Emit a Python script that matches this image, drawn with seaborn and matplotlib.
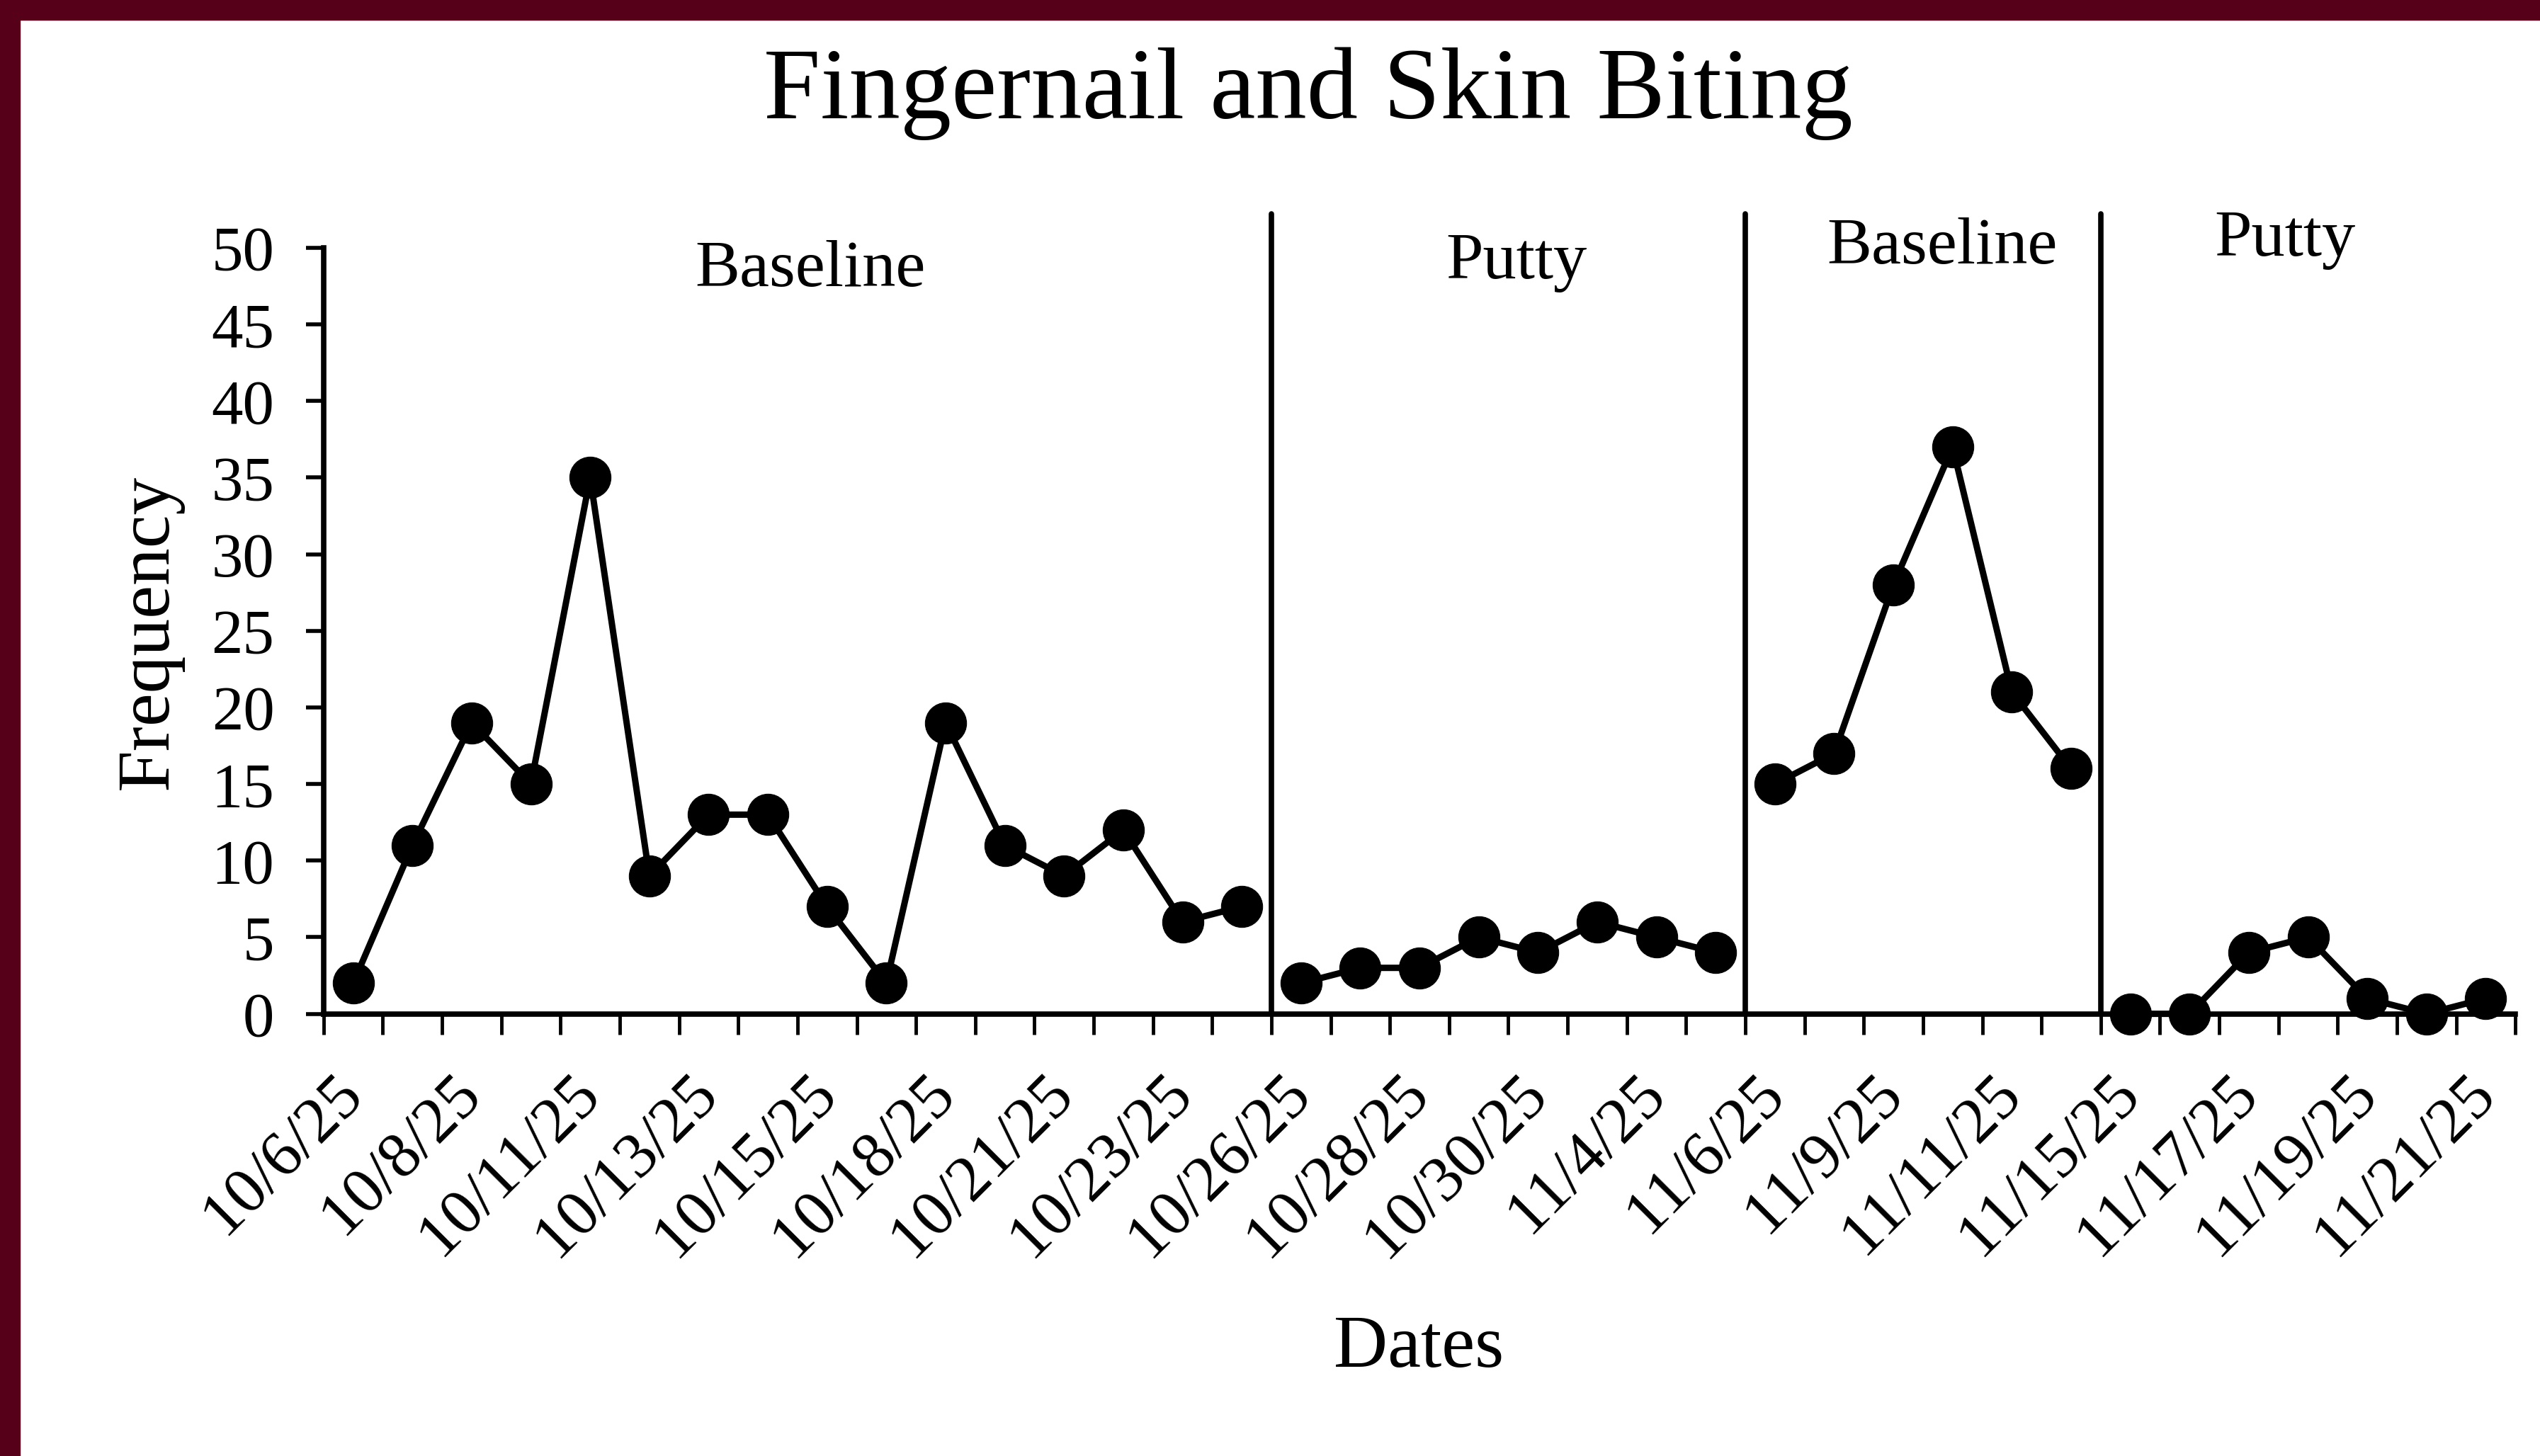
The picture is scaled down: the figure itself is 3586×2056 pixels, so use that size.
import pandas as pd
import matplotlib.pyplot as plt
from matplotlib.patches import Rectangle
from matplotlib.ticker import FixedLocator
import seaborn as sns

# session dates (every other one is printed on the axis)
dates = ['10/6/25', '10/7/25', '10/8/25', '10/9/25', '10/11/25', '10/12/25',
         '10/13/25', '10/14/25', '10/15/25', '10/16/25', '10/18/25', '10/20/25',
         '10/21/25', '10/22/25', '10/23/25', '10/24/25', '10/26/25', '10/27/25',
         '10/28/25', '10/29/25', '10/30/25', '11/3/25', '11/4/25', '11/5/25',
         '11/6/25', '11/7/25', '11/9/25', '11/10/25', '11/11/25', '11/12/25',
         '11/15/25', '11/16/25', '11/17/25', '11/18/25', '11/19/25', '11/20/25',
         '11/21/25']

baseline_1 = [2, 11, 19, 15, 35, 9, 13, 13, 7, 2, 19, 11, 9, 12, 6, 7]
putty_1 = [2, 3, 3, 5, 4, 6, 5, 4]
baseline_2 = [15, 17, 28, 37, 21, 16]
putty_2 = [0, 0, 4, 5, 1, 0, 1]

phase_names = ['Baseline', 'Putty', 'Baseline', 'Putty']
phase_values = [baseline_1, putty_1, baseline_2, putty_2]

# build one long table, one segment per phase
rows = []
pos = 0
for k, vals in enumerate(phase_values):
    for v in vals:
        rows.append({'pos': pos, 'date': dates[pos], 'freq': v, 'segment': k})
        pos += 1
df = pd.DataFrame(rows)
bounds = df.groupby('segment')['pos'].max().values[:-1] + 0.5

sns.set_theme(style='white')
plt.rcParams['font.family'] = ['Liberation Serif', 'DejaVu Serif']
plt.rcParams['text.color'] = 'black'
plt.rcParams['xtick.color'] = 'black'
plt.rcParams['ytick.color'] = 'black'
plt.rcParams['axes.labelcolor'] = 'black'

fig = plt.figure(figsize=(35.86, 20.56), dpi=100)
fig.patch.set_facecolor('white')
ax = fig.add_axes([0.1274, 0.3037, 0.8629, 0.5261])

sns.lineplot(data=df, x='pos', y='freq', hue='segment', units='segment',
             estimator=None, palette=['black'] * 4, legend=False,
             marker='o', markersize=42, markeredgecolor='black',
             linewidth=6.5, ax=ax)
for ln in ax.lines:
    ln.set_clip_on(False)

# phase change lines
for b in bounds:
    ax.plot([b, b], [0, 52.2], color='black', lw=5.5, clip_on=False)

# phase labels
label_x = [7.72, 19.64, 26.82, 32.61]
label_y = [47.5, 48.0, 49.0, 49.5]
for name, lx, ly in zip(phase_names, label_x, label_y):
    ax.text(lx, ly, name, ha='center', va='baseline', fontsize=68,
            color='black')

ax.set_xlim(-0.5, len(dates) - 0.5)
ax.set_ylim(0, 50)
ax.set_yticks(range(0, 51, 5))

ax.set_xticks(range(0, len(dates), 2))
ax.set_xticklabels(dates[::2], rotation=45, ha='right', va='center',
                   rotation_mode='anchor', fontsize=66)
ax.xaxis.set_minor_locator(FixedLocator([i - 0.5 for i in range(len(dates) + 1)]))
ax.tick_params(axis='x', which='major', length=0, pad=72)
ax.tick_params(axis='x', which='minor', length=21, width=3.5, color='black',
               direction='out', bottom=True)
ax.tick_params(axis='y', length=18, width=4, color='black', direction='out',
               left=True, pad=32, labelsize=64)

for s in ['top', 'right']:
    ax.spines[s].set_visible(False)
for s in ['left', 'bottom']:
    ax.spines[s].set_linewidth(5.5)
    ax.spines[s].set_color('black')

ax.set_xlabel('')
ax.set_ylabel('')
fig.text(0.515, 0.9355, 'Fingernail and Skin Biting', ha='center',
         va='center', fontsize=104, color='black')
fig.text(0.0587, 0.566, 'Frequency', rotation=90, ha='center', va='center',
         fontsize=76, color='black')
fig.text(0.5587, 0.0734, 'Dates', ha='center', va='center', fontsize=76,
         color='black')

# maroon frame on top and left edges
maroon = '#56001A'
fig.add_artist(Rectangle((0, 0), 28 / 3586, 1, transform=fig.transFigure,
                         color=maroon, zorder=10))
fig.add_artist(Rectangle((0, 1 - 28 / 2056), 1, 28 / 2056,
                         transform=fig.transFigure, color=maroon, zorder=10))

fig.savefig('out.png', dpi=100, facecolor='white')
plt.close('all')
